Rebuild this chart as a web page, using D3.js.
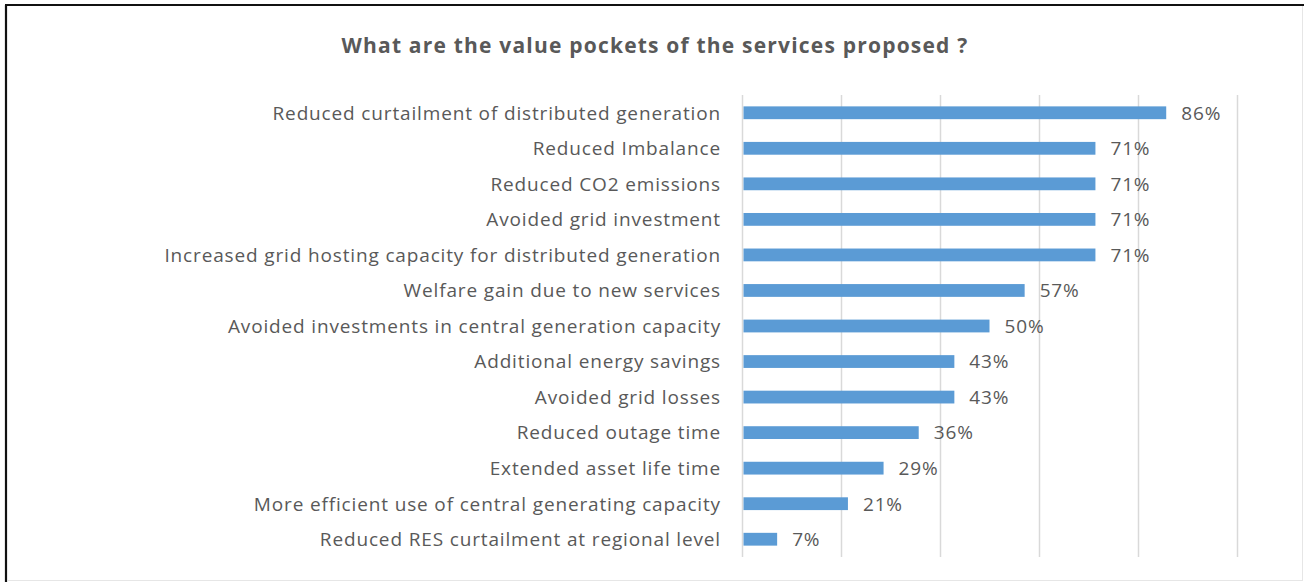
<!DOCTYPE html>
<html><head><meta charset="utf-8">
<script src="https://cdn.jsdelivr.net/npm/d3@7"></script>
<style>
html,body{margin:0;padding:0;background:#fff;}
svg{display:block;font-family:"Open Sans",Lato,sans-serif;}
</style></head>
<body><svg id="chart" width="1305" height="582"></svg>
<script>
const categories = [
  "Reduced curtailment of distributed generation",
  "Reduced Imbalance",
  "Reduced CO2 emissions",
  "Avoided grid investment",
  "Increased grid hosting capacity for distributed generation",
  "Welfare gain due to new services",
  "Avoided investments in central generation capacity",
  "Additional energy savings",
  "Avoided grid losses",
  "Reduced outage time",
  "Extended asset life time",
  "More efficient use of central generating capacity",
  "Reduced RES curtailment at regional level"
];
const values = [85.7, 71.4, 71.4, 71.4, 71.4, 57.1, 50.0, 42.9, 42.9, 35.7, 28.6, 21.4, 7.1];
const tickValues = [0, 20, 40, 60, 80, 100];
const title = "What are the value pockets of the services proposed ?";

const svg = d3.select("#chart");

// frame
svg.append("line").attr("x1",5).attr("x2",1304).attr("y1",5).attr("y2",5).attr("stroke","#111").attr("stroke-width",2);
svg.append("line").attr("x1",6).attr("x2",6).attr("y1",5).attr("y2",582).attr("stroke","#111").attr("stroke-width",2.2);
svg.append("line").attr("x1",1302.5).attr("x2",1302.5).attr("y1",6).attr("y2",580).attr("stroke","#e6e6e6").attr("stroke-width",1);
svg.append("line").attr("x1",7).attr("x2",1303).attr("y1",580.5).attr("y2",580.5).attr("stroke","#e6e6e6").attr("stroke-width",1);

const x = d3.scaleLinear().domain([0, 100]).range([742, 1237]);
const y = d3.scaleBand().domain(categories).range([95, 557]).paddingInner(0.64).paddingOuter(0.32);

// gridlines
svg.append("g").selectAll("line").data(tickValues).join("line")
  .attr("x1", d => x(d) + 0.5).attr("x2", d => x(d) + 0.5)
  .attr("y1", 95).attr("y2", 557)
  .attr("stroke", "#d9d9d9").attr("stroke-width", 1.5);

// title
svg.append("text").attr("x", 655).attr("y", 53).attr("text-anchor","middle")
  .attr("font-size", 21).attr("font-weight", "bold").attr("fill", "#595959")
  .attr("letter-spacing", 1.2).text(title);

// bars
svg.append("g").selectAll("rect").data(values).join("rect")
  .attr("x", x(0) + 1.5)
  .attr("y", (d,i) => y(categories[i]))
  .attr("width", d => x(d) - x(0) - 1.5)
  .attr("height", y.bandwidth())
  .attr("fill", "#5b9bd5");

// category labels
svg.append("g").selectAll("text").data(categories).join("text")
  .attr("x", 721).attr("y", d => y(d) + y.bandwidth()/2)
  .attr("dy", "0.36em").attr("text-anchor", "end")
  .attr("font-size", 19).attr("letter-spacing", 0.85)
  .attr("fill", "#595959").text(d => d);

// value labels
svg.append("g").selectAll("text").data(values).join("text")
  .attr("x", d => x(d) + 15).attr("y", (d,i) => y(categories[i]) + y.bandwidth()/2)
  .attr("dy", "0.36em")
  .attr("font-size", 19).attr("letter-spacing", 0.85)
  .attr("fill", "#595959").text(d => Math.round(d) + "%");
</script></body></html>
